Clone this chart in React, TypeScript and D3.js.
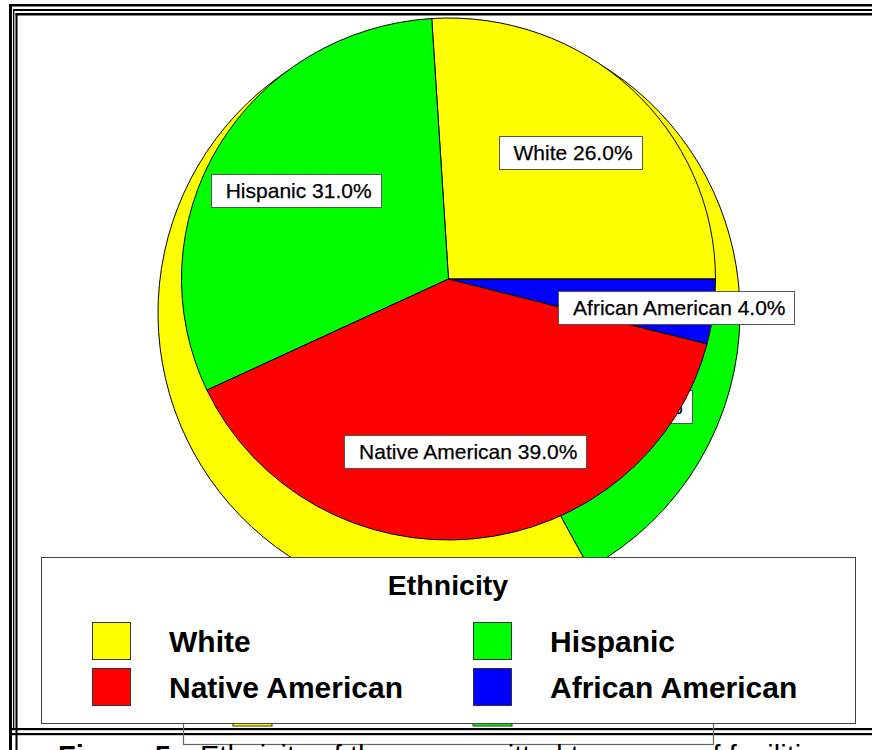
import React, { useEffect, useRef } from 'react';
import * as d3 from 'd3';

// Front chart data
const categories = ['White', 'Hispanic', 'Native American', 'African American'];
const percentages = [26.0, 31.0, 39.0, 4.0];
const sliceColors = ['#ffff00', '#00ff00', '#ff0000', '#0000ff'];
const legendTitle = 'Ethnicity';

// Background (overlapped) chart data
const bgCategories = ['Hispanic', 'White'];
const bgPercentages = [17.0, 83.0];
const bgColors = ['#00ff00', '#ffff00'];
const bgLegendColors = ['#ffff00', '#00ff00'];

const captionBold = 'Figure 5.';
const captionText = 'Ethnicity of those committed to survey of facilities';

const W = 872;
const H = 750;
const FONT = '"Liberation Sans", Arial, Helvetica, sans-serif';

export default function App() {
  const ref = useRef<SVGSVGElement | null>(null);

  useEffect(() => {
    const svg = d3.select(ref.current);
    svg.selectAll('*').remove();
    svg.append('rect').attr('width', W).attr('height', H).attr('fill', '#fff');

    // ---------- background legend (fill + swatches) ----------
    const bgLeg = { x: 183, y: 600, w: 530, h: 144 };
    svg.append('rect').attr('x', bgLeg.x).attr('y', bgLeg.y).attr('width', bgLeg.w).attr('height', bgLeg.h).attr('fill', '#fff');
    const bgSw = d3.scaleOrdinal<number, number>().domain([0, 1]).range([233, 473]);
    bgLegendColors.forEach((c, i) => {
      svg.append('rect').attr('x', bgSw(i)).attr('y', 689).attr('width', 39).attr('height', 37)
        .attr('fill', c).attr('stroke', '#333').attr('stroke-width', 1);
    });

    // ---------- frame lines ----------
    const frame = svg.append('g').attr('fill', '#000');
    frame.append('rect').attr('x', 9).attr('y', 4).attr('width', W - 9).attr('height', 2.5);
    frame.append('rect').attr('x', 9).attr('y', 4).attr('width', 3).attr('height', H - 4);
    frame.append('rect').attr('x', 13).attr('y', 9).attr('width', W - 13).attr('height', 2);
    frame.append('rect').attr('x', 13).attr('y', 9).attr('width', 1.3).attr('height', 720);
    frame.append('rect').attr('x', 15.5).attr('y', 13).attr('width', W - 15).attr('height', 2.5);
    frame.append('rect').attr('x', 15.5).attr('y', 13).attr('width', 2).attr('height', H - 13);
    frame.append('rect').attr('x', 12).attr('y', 728).attr('width', W - 12).attr('height', 2.2);
    frame.append('rect').attr('x', 9).attr('y', 733).attr('width', W - 9).attr('height', 2.2);

    svg.append('rect').attr('x', bgLeg.x + 0.5).attr('y', bgLeg.y + 0.5).attr('width', bgLeg.w).attr('height', bgLeg.h)
      .attr('fill', 'none').attr('stroke', '#666').attr('stroke-width', 1.2);

    // ---------- caption (cut by the page edge, as in the reference) ----------
    const cap = svg.append('text').attr('x', 58).attr('y', 766).attr('font-family', FONT).attr('font-size', 29).attr('fill', '#000');
    cap.append('tspan').attr('font-weight', 'bold').text(captionBold);
    cap.append('tspan').attr('x', 200).text(captionText);

    // label helper
    const drawLabel = (g: any, cx: number, cy: number, txt: string) => {
      const lg = g.append('g');
      const rect = lg.append('rect');
      const t = lg.append('text').attr('font-family', FONT).attr('font-size', 21).attr('fill', '#000')
        .attr('stroke', '#000').attr('stroke-width', 0.25).text(txt);
      const tw = (t.node() as SVGTextElement).getComputedTextLength();
      const bw = tw + 24;
      const bh = 33;
      const bx = cx - bw / 2;
      const by = cy - bh / 2;
      rect.attr('x', Math.round(bx) + 0.5).attr('y', Math.round(by) + 0.5).attr('width', Math.round(bw)).attr('height', bh)
        .attr('fill', '#fff').attr('stroke', '#555').attr('stroke-width', 1);
      t.attr('x', bx + 15).attr('y', cy + 7.5);
    };

    // ---------- background pie ----------
    const bgC = { x: 449, y: 313, r: 291 };
    const bgPie = d3.pie<number>().sort(null).startAngle(Math.PI / 2).endAngle(Math.PI / 2 + 2 * Math.PI);
    const bgArcs = bgPie(bgPercentages);
    const bgArc = d3.arc<d3.PieArcDatum<number>>().innerRadius(0).outerRadius(bgC.r);
    const bgG = svg.append('g').attr('transform', `translate(${bgC.x},${bgC.y})`);
    bgG.selectAll('path').data(bgArcs).enter().append('path')
      .attr('d', bgArc as any).attr('fill', (_d, i) => bgColors[i]).attr('stroke', '#000').attr('stroke-width', 1);
    const bgLabelArc = d3.arc<d3.PieArcDatum<number>>().innerRadius(bgC.r * 0.63).outerRadius(bgC.r * 0.63);
    bgArcs.forEach((a, i) => {
      const [lx, ly] = bgLabelArc.centroid(a);
      drawLabel(svg, bgC.x + lx, bgC.y + ly, `${bgCategories[i]} ${bgPercentages[i].toFixed(1)}%`);
    });

    // ---------- front pie ----------
    const fc = { x: 448.5, y: 279, rx: 267, ry: 261 };
    const sy = fc.ry / fc.rx;
    const pie = d3.pie<number>().sort(null).startAngle(Math.PI / 2).endAngle(Math.PI / 2 - 2 * Math.PI);
    const arcs = pie(percentages);
    const arc = d3.arc<d3.PieArcDatum<number>>().innerRadius(0).outerRadius(fc.rx);
    const fg = svg.append('g').attr('transform', `translate(${fc.x},${fc.y}) scale(1,${sy})`);
    fg.selectAll('path').data(arcs).enter().append('path')
      .attr('d', arc as any).attr('fill', (_d, i) => sliceColors[i]).attr('stroke', '#000')
      .attr('stroke-width', 1).attr('vector-effect', 'non-scaling-stroke');
    const labelFactor = [0.665, 0.665, 0.665, 0.86];
    arcs.forEach((a, i) => {
      const la = d3.arc<d3.PieArcDatum<number>>().innerRadius(fc.rx * labelFactor[i]).outerRadius(fc.rx * labelFactor[i]);
      const [lx, ly] = la.centroid(a);
      drawLabel(svg, fc.x + lx, fc.y + ly * sy, `${categories[i]} ${percentages[i].toFixed(1)}%`);
    });

    // ---------- front legend ----------
    const leg = { x: 41, y: 557, w: 814, h: 166 };
    svg.append('rect').attr('x', leg.x + 0.5).attr('y', leg.y + 0.5).attr('width', leg.w).attr('height', leg.h)
      .attr('fill', '#fff').attr('stroke', '#444').attr('stroke-width', 1);
    svg.append('text').attr('x', 448).attr('y', 595).attr('text-anchor', 'middle')
      .attr('font-family', FONT).attr('font-weight', 'bold').attr('font-size', 28.5).text(legendTitle);
    const colX = d3.scaleOrdinal<number, number>().domain([0, 1]).range([92, 473]);
    const rowY = d3.scaleOrdinal<number, number>().domain([0, 1]).range([622, 668]);
    categories.forEach((c, i) => {
      const col = i % 2;
      const row = Math.floor(i / 2);
      svg.append('rect').attr('x', colX(col) + 0.5).attr('y', rowY(row) + 0.5).attr('width', 38).attr('height', 37)
        .attr('fill', sliceColors[i]).attr('stroke', '#333').attr('stroke-width', 1);
      svg.append('text').attr('x', colX(col) + 77).attr('y', rowY(row) + 29.5)
        .attr('font-family', FONT).attr('font-weight', 'bold').attr('font-size', 30).attr('fill', '#000').text(c);
    });
  }, []);

  return (
    <svg ref={ref} width={W} height={H} style={{ position: 'absolute', left: 0, top: 0, display: 'block' }} />
  );
}
